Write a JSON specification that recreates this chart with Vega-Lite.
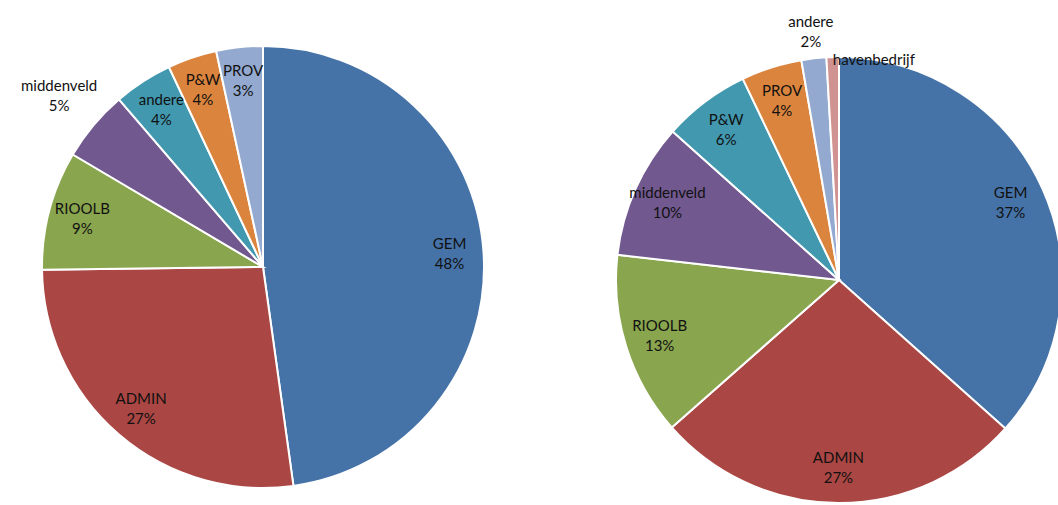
{
  "$schema": "https://vega.github.io/schema/vega-lite/v6.json",
  "width": 1058,
  "height": 505,
  "autosize": {"type": "none"},
  "padding": 0,
  "background": "white",
  "config": {"view": {"stroke": null}},
  "datasets": {
    "links": [
      {"chart": "links", "idx": 1, "category": "GEM", "value": 47.8, "label": "GEM\n48%"},
      {"chart": "links", "idx": 2, "category": "ADMIN", "value": 27.0, "label": "ADMIN\n27%"},
      {"chart": "links", "idx": 3, "category": "RIOOLB", "value": 8.7, "label": "RIOOLB\n9%"},
      {"chart": "links", "idx": 4, "category": "middenveld", "value": 5.2, "label": "middenveld\n5%"},
      {"chart": "links", "idx": 5, "category": "andere", "value": 4.3, "label": "andere\n4%"},
      {"chart": "links", "idx": 6, "category": "P&W", "value": 3.6, "label": "P&W\n4%"},
      {"chart": "links", "idx": 7, "category": "PROV", "value": 3.4, "label": "PROV\n3%"}
    ],
    "rechts": [
      {"chart": "rechts", "idx": 1, "category": "GEM", "value": 36.6, "label": "GEM\n37%"},
      {"chart": "rechts", "idx": 2, "category": "ADMIN", "value": 26.9, "label": "ADMIN\n27%"},
      {"chart": "rechts", "idx": 3, "category": "RIOOLB", "value": 13.3, "label": "RIOOLB\n13%"},
      {"chart": "rechts", "idx": 4, "category": "middenveld", "value": 9.8, "label": "middenveld\n10%"},
      {"chart": "rechts", "idx": 5, "category": "P&W", "value": 6.3, "label": "P&W\n6%"},
      {"chart": "rechts", "idx": 6, "category": "PROV", "value": 4.4, "label": "PROV\n4%"},
      {"chart": "rechts", "idx": 7, "category": "andere", "value": 1.8, "label": "andere\n2%"},
      {"chart": "rechts", "idx": 8, "category": "havenbedrijf", "value": 0.9, "label": "havenbedrijf"}
    ]
  },
  "encoding": {
    "x": {"field": "chart", "type": "nominal", "scale": {"type": "point", "domain": ["links", "rechts"], "range": [263, 839], "padding": 0}, "axis": null},
    "y": {"field": "chart", "type": "nominal", "scale": {"type": "point", "domain": ["links", "rechts"], "range": [267, 280], "padding": 0}, "axis": null},
    "theta": {"field": "value", "type": "quantitative", "stack": true, "scale": {"domain": [0, 100]}},
    "order": {"field": "idx", "type": "quantitative"}
  },
  "layer": [
    {
      "data": {"name": "links"},
      "mark": {"type": "arc", "outerRadius": 221, "stroke": "white", "strokeWidth": 2},
      "encoding": {
        "color": {"field": "idx", "type": "nominal", "scale": {"domain": [1, 2, 3, 4, 5, 6, 7, 8], "range": ["#4572A7", "#AA4643", "#89A54E", "#71588F", "#4198AF", "#DB843D", "#93A9CF", "#D19392"]}, "legend": null}
      }
    },
    {
      "data": {"name": "links"},
      "mark": {"type": "text", "radius": 187, "dy": -10, "align": "center", "baseline": "middle", "lineBreak": "\n", "font": "Lato", "fontSize": 15, "lineHeight": 20, "fill": "#111111"},
      "encoding": {
        "text": {"condition": {"test": "datum.category !== 'middenveld'", "field": "label", "type": "nominal"}, "value": ""}
      }
    },
    {
      "data": {"name": "links"},
      "mark": {"type": "text", "radius": 266, "dy": -10, "align": "center", "baseline": "middle", "lineBreak": "\n", "font": "Lato", "fontSize": 15, "lineHeight": 20, "fill": "#111111"},
      "encoding": {
        "text": {"condition": {"test": "datum.category === 'middenveld'", "field": "label", "type": "nominal"}, "value": ""}
      }
    },
    {
      "data": {"name": "rechts"},
      "mark": {"type": "arc", "outerRadius": 223, "stroke": "white", "strokeWidth": 2},
      "encoding": {
        "color": {"field": "idx", "type": "nominal", "scale": {"domain": [1, 2, 3, 4, 5, 6, 7, 8], "range": ["#4572A7", "#AA4643", "#89A54E", "#71588F", "#4198AF", "#DB843D", "#93A9CF", "#D19392"]}, "legend": null}
      }
    },
    {
      "data": {"name": "rechts"},
      "mark": {"type": "text", "radius": 188, "dy": -10, "align": "center", "baseline": "middle", "lineBreak": "\n", "font": "Lato", "fontSize": 15, "lineHeight": 20, "fill": "#111111"},
      "encoding": {
        "text": {"condition": {"test": "datum.category !== 'andere' && datum.category !== 'havenbedrijf'", "field": "label", "type": "nominal"}, "value": ""}
      }
    },
    {
      "data": {"name": "rechts"},
      "mark": {"type": "text", "radius": 250, "dy": -10, "align": "center", "baseline": "middle", "lineBreak": "\n", "font": "Lato", "fontSize": 15, "lineHeight": 20, "fill": "#111111"},
      "encoding": {
        "text": {"condition": {"test": "datum.category === 'andere'", "field": "label", "type": "nominal"}, "value": ""}
      }
    },
    {
      "data": {"name": "rechts"},
      "mark": {"type": "text", "radius": 220, "align": "left", "baseline": "middle", "lineBreak": "\n", "font": "Lato", "fontSize": 15, "lineHeight": 20, "fill": "#111111"},
      "encoding": {
        "text": {"condition": {"test": "datum.category === 'havenbedrijf'", "field": "label", "type": "nominal"}, "value": ""}
      }
    }
  ]
}
